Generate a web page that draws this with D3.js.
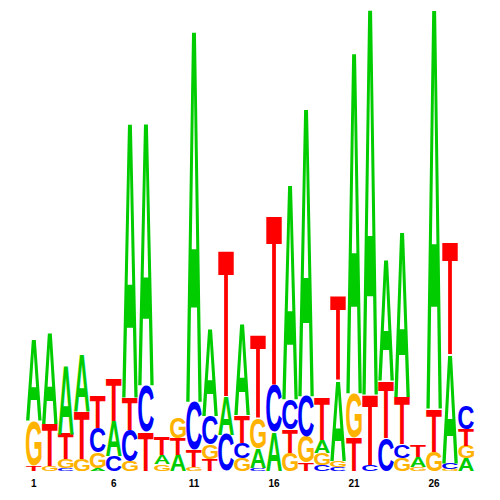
<!DOCTYPE html>
<html>
<head>
  <title>Sequence logo</title>
  <script src="https://d3js.org/d3.v7.min.js"></script>
  <style>
    body { margin: 0; background: #fff; }
    .base { font-family: "Liberation Sans", Arial, sans-serif; font-weight: bold; }
    .tick { font-family: "Liberation Sans", Arial, sans-serif; font-weight: bold; font-size: 10px; }
  </style>
</head>
<body>
  <div id="chart"></div>

  <script>
    // Positions of the motif
    const positions = d3.range(1, 29);
    const tickLabels = [1, 6, 11, 16, 21, 26];

    // Information (bits) carried by each base at each position
    const bitsA = [0.350, 0.397, 0.294, 0.242, 0.013, 0.151, 1.188, 1.136, 0.039, 0.069,
                   1.607, 0.376, 0.164, 0.397, 0.082, 0.168, 0.929, 1.248, 0.056, 0.346,
                   1.477, 1.672, 0.523, 0.713, 0.043, 1.732, 0.467, 0.054];
    const bitsC = [0, 0, 0.013, 0, 0.104, 0.065, 0.134, 0.199, 0, 0,
                   0.207, 0.125, 0.156, 0.065, 0.013, 0.203, 0.130, 0.173, 0.026, 0.017,
                   0, 0.026, 0.143, 0.058, 0, 0, 0.026, 0.099];
    const bitsG = [0.194, 0.022, 0.039, 0.052, 0.069, 0, 0.043, 0, 0.030, 0.091,
                   0.017, 0.060, 0, 0.056, 0.130, 0, 0.078, 0.112, 0.052, 0.026,
                   0.190, 0, 0, 0.056, 0.017, 0.082, 0.009, 0.054];
    const bitsT = [0.022, 0.181, 0.108, 0.207, 0.138, 0.186, 0.138, 0.168, 0.078, 0.073,
                   0.073, 0.052, 0.631, 0.117, 0.354, 0.730, 0.099, 0.035, 0.181, 0.359,
                   0.143, 0.302, 0.242, 0.203, 0.048, 0.186, 0.484, 0.069];

    const bases = ["A", "C", "G", "T"];
    const bits = {A: bitsA, C: bitsC, G: bitsG, T: bitsT};

    const color = d3.scaleOrdinal()
      .domain(bases)
      .range(["#00cc00", "#0000ff", "#ffb300", "#ff0000"]);

    const width = 500, height = 500;

    const svg = d3.select("#chart")
      .append("svg")
        .attr("width", width)
        .attr("height", height);

    const x = d3.scaleBand()
      .domain(positions)
      .range([26, 474])
      .paddingInner(0.02);

    const y = d3.scaleLinear()
      .domain([0, 2])
      .range([471, 4]);

    // tight glyph boxes, measured once on a canvas
    const ctx = document.createElement("canvas").getContext("2d");
    ctx.font = 'bold 100px "Liberation Sans"';
    const glyph = {};
    bases.forEach(b => {
      const m = ctx.measureText(b);
      glyph[b] = {
        left: m.actualBoundingBoxLeft,
        w: m.actualBoundingBoxLeft + m.actualBoundingBoxRight,
        asc: m.actualBoundingBoxAscent,
        h: m.actualBoundingBoxAscent + m.actualBoundingBoxDescent
      };
    });

    // stack letters, smallest at the bottom
    const stacks = positions.map((p, i) => {
      const col = bases.map(b => ({base: b, value: bits[b][i]}))
        .filter(d => d.value > 0)
        .sort((a, b) => a.value - b.value);
      let acc = 0;
      col.forEach(d => { d.y0 = acc; acc += d.value; d.y1 = acc; d.pos = p; });
      return col;
    });

    svg.append("g")
      .selectAll("g")
      .data(stacks)
      .join("g")
      .selectAll("text")
      .data(d => d)
      .join("text")
        .attr("class", "base")
        .attr("font-size", 100)
        .attr("fill", d => color(d.base))
        .attr("transform", d => {
          const g = glyph[d.base];
          const bw = x.bandwidth();
          const bh = y(d.y0) - y(d.y1);
          return `translate(${x(d.pos)},${y(d.y1)}) scale(${bw / g.w},${bh / g.h}) translate(${g.left},${g.asc})`;
        })
        .text(d => d.base);

    // position labels
    svg.append("g")
      .selectAll("text")
      .data(tickLabels)
      .join("text")
        .attr("class", "tick")
        .attr("x", d => x(d) + x.bandwidth() / 2)
        .attr("y", 487)
        .attr("text-anchor", "middle")
        .text(d => d);
  </script>
</body>
</html>
